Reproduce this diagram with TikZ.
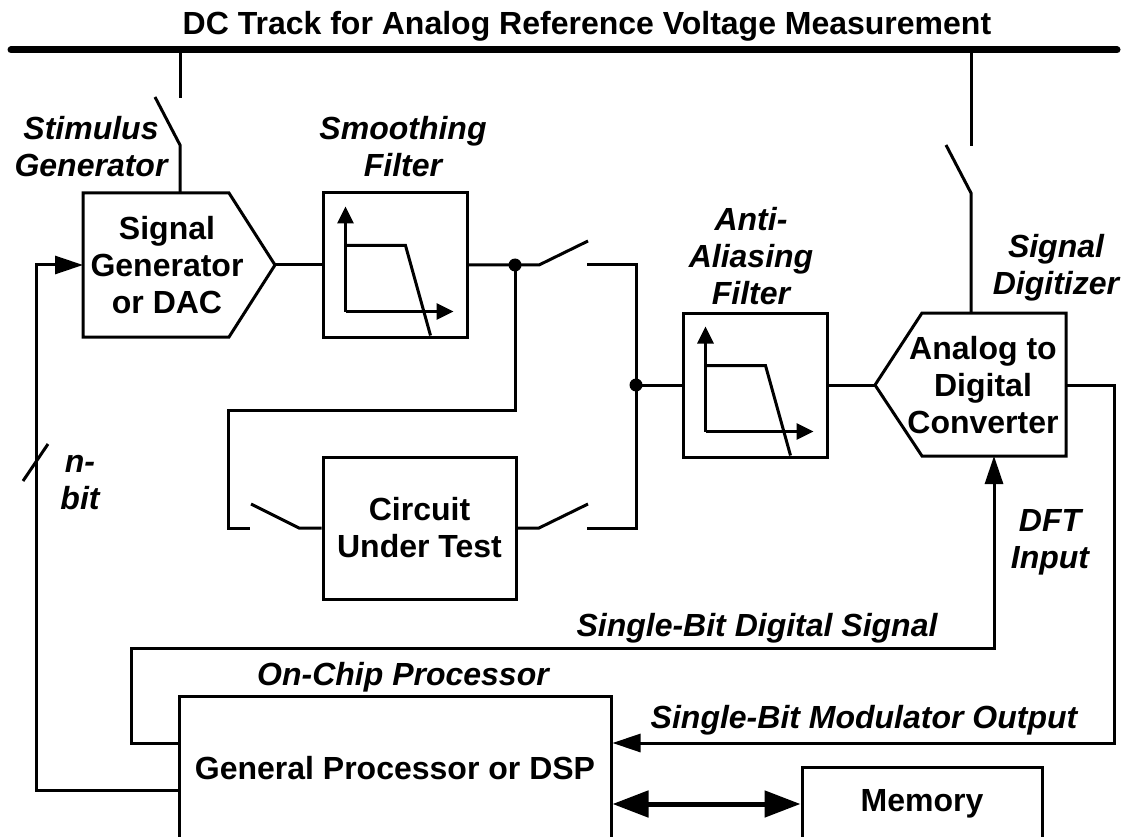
\documentclass[tikz,border=0pt]{standalone}
\usepackage{fontspec}
\setmainfont{Liberation Sans}
\usetikzlibrary{arrows.meta}

\begin{document}
\begin{tikzpicture}[x=1pt,y=-1pt,line width=3pt,
  font=\fontsize{32}{37}\selectfont\bfseries,
  blk/.style={draw,inner sep=0pt,align=center},
  txt/.style={align=center},
  lbl/.style={font=\fontsize{32}{37}\selectfont\bfseries\itshape,align=center},
  arr/.style={-{Triangle[length=28pt,width=18pt]}},
  axarr/.style={-{Triangle[length=17pt,width=16pt]}},
  dot/.style={circle,fill,inner sep=0pt,minimum size=13pt}]
  \useasboundingbox (0,0) rectangle (1125,837);
  \clip (0,0) rectangle (1125,837);

  % DC track
  \node[anchor=base] (title) at (587,35) {DC Track for Analog Reference Voltage Measurement};
  \draw[line width=7pt,line cap=round] (11,50) -- (1117,50);

  % stimulus side
  \draw (83,193) -- (229,193) -- (275,265) coordinate (gen-out) -- (229,337) -- (83,337)
    -- (83,265) coordinate (gen-in) -- cycle;
  \coordinate (gen-top) at (180,193);
  \node[txt] (gen) at (167,265) {Signal\\Generator\\or DAC};
  \node[lbl] at (91,147) {Stimulus\\Generator};
  \draw (180,50) -- (180,98);
  \draw (155,97) -- (180,145) -- (gen-top);

  \node[blk,minimum width=144pt,minimum height=144pt] (smooth) at (395,265) {};
  \node[lbl] at (403,147) {Smoothing\\Filter};

  % circuit under test and bypass
  \node[blk,minimum width=193pt,minimum height=142pt] (cut) at (419.5,528) {Circuit\\Under Test};
  \coordinate (j1) at (515,265);
  \coordinate (j2) at (636,385);
  \draw (gen-out) -- (smooth.west);
  \draw (smooth.east) -- (j1) -- (539,265) -- (588,241);
  \draw (587,265) -| (j2) |- (587,528);
  \draw (cut.east) -- (539,528) -- (588,504);
  \draw (j1) |- (228,410) |- (250,528);
  \draw (251,504) -- (299,528) -- (cut.west);
  \node[dot] at (j1) {};
  \node[dot] at (j2) {};

  % digitizer side
  \node[blk,minimum width=144pt,minimum height=144pt] (aaf) at (755,385) {};
  \node[lbl] at (751,256) {Anti-\\Aliasing\\Filter};
  \draw (875,385) coordinate (adc-in) -- (922,313) -- (1066,313) -- (1066,456) -- (922,456) -- cycle;
  \coordinate (adc-out) at (1066,385);
  \coordinate (adc-top) at (971,313);
  \coordinate (adc-bot) at (994,456);
  \node[txt] (adc) at (983,385) {Analog to\\Digital\\Converter};
  \node[lbl] at (1056,268) {Signal\\Digitizer};
  \draw (971,50) -- (971,146);
  \draw (946,145) -- (971,193) -- (adc-top);
  \draw (j2) -- (aaf.west);
  \draw (aaf.east) -- (adc-in);

  % filter curves
  \foreach \f in {smooth,aaf}{
    \draw[axarr] ([shift={(24,-27)}]\f.south west) coordinate (o) -- ++(0,-105);
    \draw[axarr] (o) -- ++(108,0);
    \draw ([shift={(24,-93)}]\f.south west) -- ++(60,0) -- ([shift={(109,-3)}]\f.south west);
  }

  % processor
  \node[blk,minimum width=432pt,minimum height=144pt] (proc) at (395,768) {General Processor or DSP};
  \node[blk,minimum width=240pt,minimum height=74pt] (mem) at (922,804) {Memory};
  \node[lbl,anchor=base] at (403,685) {On-Chip Processor};
  \node[lbl,anchor=base] at (757,636) {Single-Bit Digital Signal};
  \node[lbl,anchor=base] at (864,728) {Single-Bit Modulator Output};
  \node[lbl] at (1050,542) {DFT\\Input};
  \node[lbl] at (80,483) {n-\\bit};

  \coordinate (mod) at (1114,743);
  \coordinate (dsig) at (131,648);
  \coordinate (nb) at (36,790);
  \draw[arr] (adc-out) -| (mod) -- (mod -| proc.east);
  \draw[arr] (mod -| proc.west) -| (dsig) -| (adc-bot);
  \draw[arr] (nb -| proc.west) -- (nb) |- (gen-in);
  \draw (23,481) -- (48,444);
  \draw[line width=5pt,{Triangle[length=36pt,width=26pt]}-{Triangle[length=36pt,width=26pt]}]
    (proc.east |- mem.west) -- (mem.west);
\end{tikzpicture}
\end{document}
